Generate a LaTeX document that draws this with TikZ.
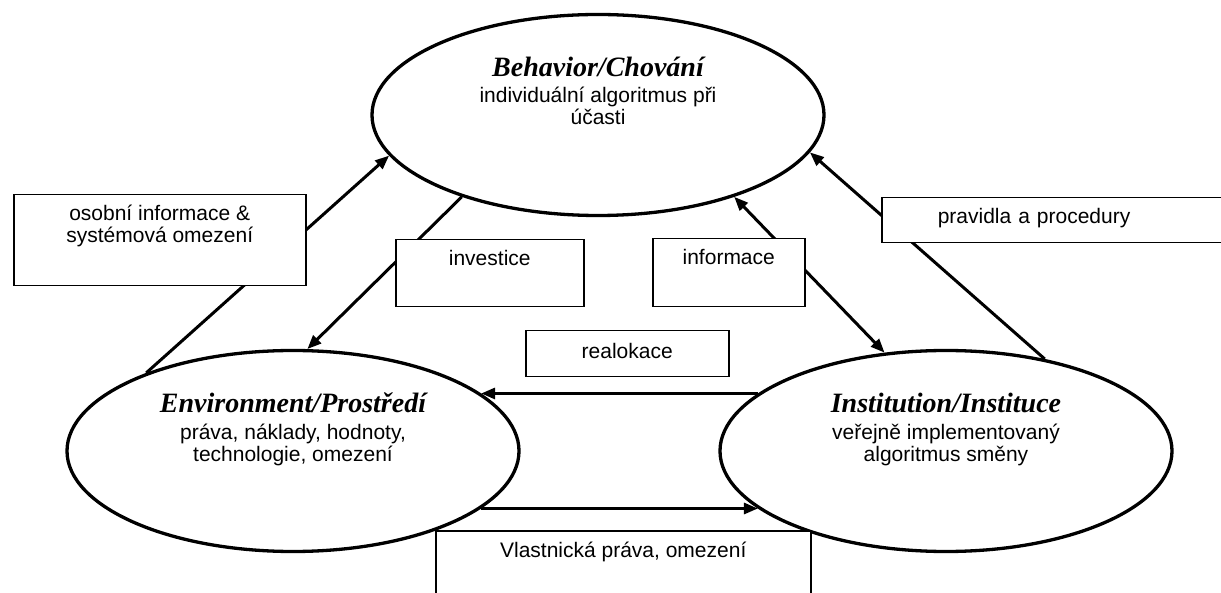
\documentclass[tikz,border=0pt]{standalone}
\usepackage{fontspec}
\setmainfont{Liberation Sans}
\newfontfamily\titlefont{Liberation Serif}
\usetikzlibrary{shapes.geometric,arrows.meta}
\newcommand{\ttl}[1]{{\titlefont\bfseries\itshape\fontsize{28}{30}\selectfont #1}}
\newcommand{\tightlines}{\lineskiplimit=-100pt\relax}
\begin{document}
\begin{tikzpicture}[x=1pt, y=-1pt,
    every node/.style={font=\fontsize{21}{22}\selectfont\tightlines},
    sphere/.style={ellipse, draw, line width=3.3pt, minimum width=452pt, minimum height=201pt,
        align=center, text height=70pt, text depth=50pt},
    lbl/.style={draw, fill=white, line width=1.5pt, inner sep=4pt, text height=22pt, anchor=north west},
    arr/.style={line width=3pt, -{Triangle[length=14pt, width=11pt]}},
    arrs/.style={line width=3pt, {Triangle[length=14pt, width=11pt]}-{Triangle[length=14pt, width=11pt]}}]
    \useasboundingbox (0,0) rectangle (1221,593);
    \clip (0,0) rectangle (1221,593);
    \node[sphere] (beh) at (598,115) {\ttl{Behavior/Chování}\\[4pt]individuální algoritmus při\\účasti};
    \node[sphere] (env) at (293,451) {\ttl{Environment/Prostředí}\\[5pt]práva, náklady, hodnoty,\\technologie, omezení};
    \node[sphere] (inst) at (946,451) {\ttl{Institution/Instituce}\\[5pt]veřejně implementovaný\\algoritmus směny};
    \draw[arr] (env.152) -- (beh.191);
    \draw[arr] (beh.211) -- (env.82);
    \draw[arrs] (beh.329) -- (inst.122);
    \draw[arr] (inst.43) -- (beh.350);
    \draw[arr] (inst.163) -- (env.17);
    \draw[arr] (env.343) -- (inst.197);
    \node[lbl, minimum width=292pt, text height=44pt, text depth=39pt, align=center] (osobni) at (13,194) {osobní informace \&\\systémová omezení};
    \node[lbl, minimum width=188pt, text depth=37pt] (invest) at (395,239) {investice};
    \node[lbl, minimum width=152pt, text depth=38pt] (info) at (652,238) {informace};
    \node[lbl, minimum width=203pt, text height=24pt, text depth=14pt] (realok) at (525,330) {realokace};
    \node[lbl, text width=231pt, inner xsep=56pt, align=left, text depth=15pt] (pravidla) at (881,197) {pravidla a procedury};
    \node[lbl, minimum width=375pt, text height=23pt, text depth=39pt] (vlast) at (435,530) {Vlastnická práva, omezení};
\end{tikzpicture}
\end{document}
